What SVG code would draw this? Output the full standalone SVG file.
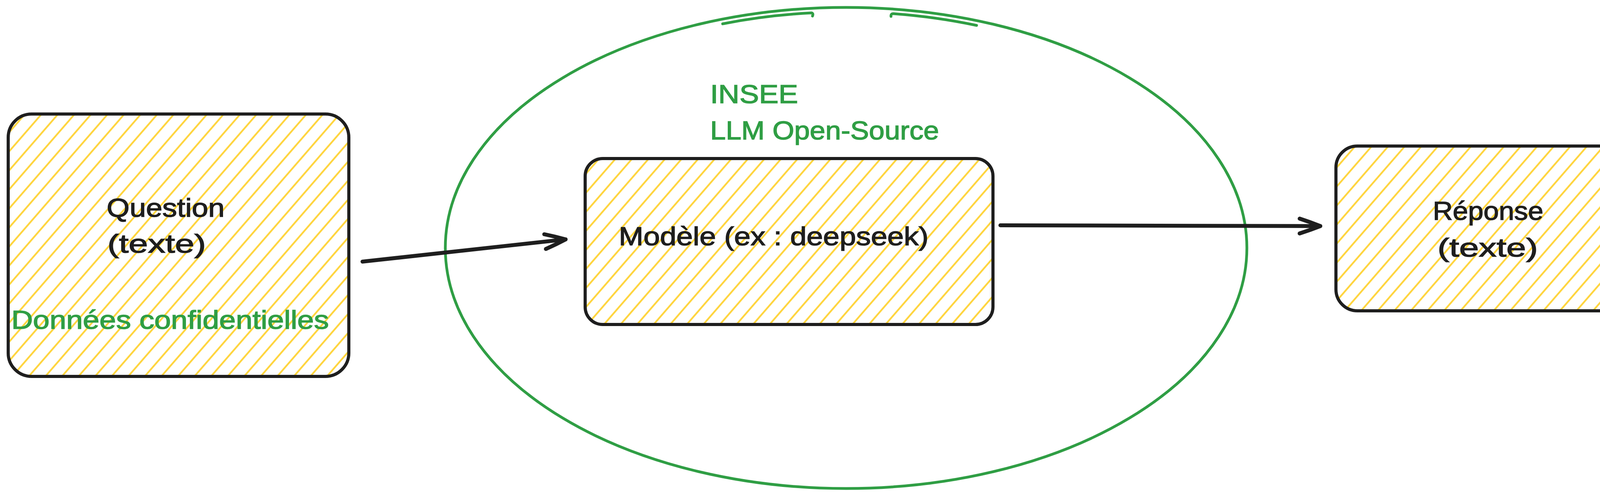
<svg xmlns="http://www.w3.org/2000/svg" width="4215" height="1260" viewBox="0 0 4215 1260">
  <style>
    .box { stroke: #1e1e1e; stroke-width: 8; fill: url(#hatch); }
    .lbl { font-family: "Liberation Sans", "Open Sans", sans-serif; font-size: 66px; fill: #1e1e1e; stroke: #1e1e1e; stroke-width: 1.6; }
    .grn { fill: #2f9e44; stroke: #2f9e44; }
    .conn { stroke: #1e1e1e; stroke-width: 10; fill: none; stroke-linecap: round; }
    .ring { stroke: #2f9e44; stroke-width: 7; fill: none; stroke-linecap: round; }
  </style>
  <defs>
    <pattern id="hatch" patternUnits="userSpaceOnUse" width="32" height="20" patternTransform="rotate(41)">
      <rect width="32" height="20" fill="#ffffff"/>
      <line x1="16" y1="-2" x2="16" y2="22" stroke="#ffd43b" stroke-width="4.5"/>
    </pattern>
    <marker id="arrow" markerUnits="userSpaceOnUse" markerWidth="90" markerHeight="70" viewBox="-70 -35 90 70" refX="0" refY="0" orient="auto" overflow="visible">
      <path d="M -53 -19 Q -25 -10 0 0 Q -25 10 -53 19" fill="none" stroke="#1e1e1e" stroke-width="10" stroke-linecap="round" stroke-linejoin="round"/>
    </marker>
  </defs>
  <rect width="4215" height="1260" fill="#ffffff"/>

  <g id="zone-insee">
    <ellipse class="ring" cx="2166" cy="635" rx="1026" ry="616"/>
    <path class="ring" d="M 1850 61 A 1020 610 0 0 1 2077 33 Q 2083 34 2080 41"/>
    <path class="ring" d="M 2281 42 Q 2280 35 2287 35 A 1020 610 0 0 1 2500 65"/>
    <text class="lbl grn" x="1818" y="264" textLength="225" lengthAdjust="spacingAndGlyphs">INSEE</text>
    <text class="lbl grn" x="1818" y="357" textLength="586" lengthAdjust="spacingAndGlyphs">LLM Open-Source</text>
  </g>

  <g id="node-question">
    <rect class="box" x="21" y="292" width="872" height="672" rx="60" ry="60"/>
    <text class="lbl" x="273" y="555" textLength="302" lengthAdjust="spacingAndGlyphs">Question</text>
    <text class="lbl" x="275" y="647" textLength="252" lengthAdjust="spacingAndGlyphs">(texte)</text>
    <text class="lbl grn" x="29" y="842" textLength="813" lengthAdjust="spacingAndGlyphs">Données confidentielles</text>
  </g>

  <g id="node-modele">
    <rect class="box" x="1498" y="406" width="1044" height="425" rx="45" ry="45"/>
    <text class="lbl" x="1584" y="628" textLength="793" lengthAdjust="spacingAndGlyphs">Modèle (ex : deepseek)</text>
  </g>

  <g id="node-reponse">
    <rect class="box" x="3420" y="374" width="777" height="422" rx="55" ry="55"/>
    <text class="lbl" x="3668" y="563" textLength="283" lengthAdjust="spacingAndGlyphs">Réponse</text>
    <text class="lbl" x="3680" y="657" textLength="257" lengthAdjust="spacingAndGlyphs">(texte)</text>
  </g>

  <g id="connectors">
    <path class="conn" d="M 928 670 L 1448 613" marker-end="url(#arrow)"/>
    <path class="conn" d="M 2561 577 L 3380 579" marker-end="url(#arrow)"/>
  </g>
</svg>
